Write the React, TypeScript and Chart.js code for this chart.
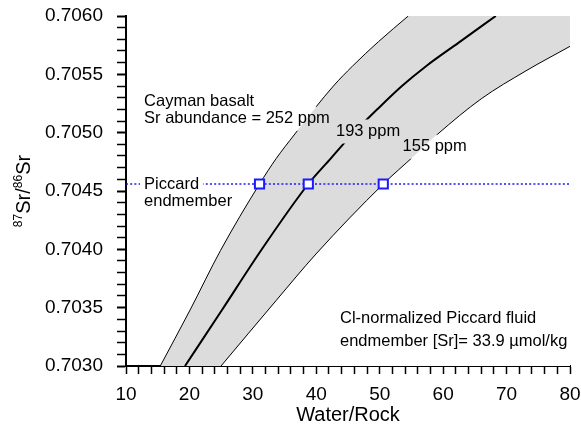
import React, { useEffect, useRef } from 'react';
import { Chart, registerables } from 'chart.js';

Chart.register(...registerables);

// Axis ranges and tick steps
const X_MIN = 10;
const X_MAX = 80;
const X_MAJOR = 10;
const X_MINOR = 2;
const Y_MIN = 0.703;
const Y_MAX = 0.706;
const Y_MAJOR = 0.0005;
const Y_MINOR = 0.0001;

// Mixing curves (Water/Rock vs 87Sr/86Sr) for three basalt Sr abundances
const curve252X = [15.4, 20.1, 24.9, 31.05, 33.7, 36.5, 39.8, 42.7, 45.7, 49.8, 54.5];
const curve252Y = [0.7030, 0.70348, 0.70399, 0.70456, 0.70478, 0.70498, 0.70521, 0.70540, 0.70557, 0.70578, 0.7060];

const curve193X = [19.3, 25.13, 31.28, 38.74, 42.3, 45.4, 49.8, 53.5, 57.3, 62.4, 68.3];
const curve193Y = [0.7030, 0.70348, 0.70399, 0.70456, 0.70478, 0.70497, 0.70521, 0.70540, 0.70557, 0.70577, 0.7060];

const curve155X = [24.98, 33.65, 39.95, 50.56, 55.4, 59.19, 66.0, 73.06, 80.0];
const curve155Y = [0.7030, 0.70356, 0.70396, 0.70456, 0.70480, 0.70499, 0.70529, 0.70553, 0.70574];

// Piccard endmember
const PICCARD_Y = 0.70456;
const markerX = [31.05, 38.74, 50.56];

// Text annotations (data coordinates of the left/middle of each line)
const annotText = [
  'Cayman basalt',
  'Sr abundance = 252 ppm',
  '193 ppm',
  '155 ppm',
  'Piccard',
  'endmember',
  'Cl-normalized Piccard fluid',
  'endmember [Sr]= 33.9 µmol/kg',
];
const annotX = [12.85, 12.85, 43.1, 53.6, 12.85, 12.85, 43.74, 43.74];
const annotY = [0.70527, 0.70512, 0.70501, 0.70488, PICCARD_Y, 0.70441, 0.70341, 0.70321];
const annotKnockout = [false, true, true, true, true, false, false, false];

const FAMILY = '"Liberation Sans", Arial, Helvetica, sans-serif';
const ANNOT_FONT = `16.5px ${FAMILY}`;
const BAND = '#dcdcdc';
const BLUE = '#1a1aff';

const toPts = (xs: number[], ys: number[]) => xs.map((x, i) => ({ x, y: ys[i] }));

function labelRect(chart: any, i: number) {
  const ctx = chart.ctx;
  ctx.save();
  ctx.font = ANNOT_FONT;
  const w = ctx.measureText(annotText[i]).width;
  ctx.restore();
  const px = chart.scales.x.getPixelForValue(annotX[i]);
  const py = chart.scales.y.getPixelForValue(annotY[i]);
  return { x: px - 4, y: py - 12, w: w + 8, h: 24 };
}

const KNOCK_DATASETS = [1, 2, 3, 4];

const annotPlugin = {
  id: 'annot',
  beforeDatasetDraw(chart: any, args: any) {
    if (!KNOCK_DATASETS.includes(args.index)) return;
    const ctx = chart.ctx;
    ctx.save();
    ctx.beginPath();
    ctx.rect(0, 0, chart.width, chart.height);
    for (let i = 0; i < annotText.length; i++) {
      if (!annotKnockout[i]) continue;
      const r = labelRect(chart, i);
      ctx.rect(r.x, r.y, r.w, r.h);
    }
    ctx.clip('evenodd');
  },
  afterDatasetDraw(chart: any, args: any) {
    if (!KNOCK_DATASETS.includes(args.index)) return;
    chart.ctx.restore();
  },
  afterDatasetsDraw(chart: any) {
    const ctx = chart.ctx;
    ctx.save();
    ctx.font = ANNOT_FONT;
    ctx.fillStyle = '#000';
    ctx.textAlign = 'left';
    ctx.textBaseline = 'middle';
    for (let i = 0; i < annotText.length; i++) {
      const px = chart.scales.x.getPixelForValue(annotX[i]);
      const py = chart.scales.y.getPixelForValue(annotY[i]);
      ctx.fillText(annotText[i], px, py);
    }
    ctx.restore();
  },
  afterDraw(chart: any) {
    // y-axis title with superscripts: 87Sr/86Sr
    const ctx = chart.ctx;
    const area = chart.chartArea;
    const parts = [
      { t: '87', sup: true },
      { t: 'Sr/', sup: false },
      { t: '86', sup: true },
      { t: 'Sr', sup: false },
    ];
    const mainFont = `20px ${FAMILY}`;
    const supFont = `12px ${FAMILY}`;
    ctx.save();
    let total = 0;
    const widths = parts.map((p) => {
      ctx.font = p.sup ? supFont : mainFont;
      const w = ctx.measureText(p.t).width;
      total += w;
      return w;
    });
    ctx.translate(area.left - 96, (area.top + area.bottom) / 2);
    ctx.rotate(-Math.PI / 2);
    ctx.fillStyle = '#000';
    ctx.textAlign = 'left';
    ctx.textBaseline = 'alphabetic';
    let cx = -total / 2;
    parts.forEach((p, i) => {
      ctx.font = p.sup ? supFont : mainFont;
      ctx.fillText(p.t, cx, p.sup ? -8 : 0);
      cx += widths[i];
    });
    ctx.restore();
  },
};

const zeroPad = (s: any) => {
  s.paddingTop = 0;
  s.paddingBottom = 0;
  s.paddingLeft = 0;
  s.paddingRight = 0;
};

export default function App() {
  const ref = useRef<HTMLCanvasElement | null>(null);

  useEffect(() => {
    if (!ref.current) return;
    const left = toPts(curve252X, curve252Y);
    const mid = toPts(curve193X, curve193Y);
    const right = toPts(curve155X, curve155Y);
    const fillBase = {
      borderColor: 'rgba(0,0,0,0)',
      borderWidth: 0,
      pointRadius: 0,
      cubicInterpolationMode: 'monotone' as const,
    };
    const chart = new Chart(ref.current, {
      type: 'line',
      data: {
        datasets: [
          {
            // 0: endmember markers
            data: markerX.map((x) => ({ x, y: PICCARD_Y })),
            showLine: false,
            pointStyle: 'rect',
            pointRadius: 6.5,
            pointBackgroundColor: '#ffffff',
            pointBorderColor: BLUE,
            pointBorderWidth: 2,
            fill: false,
          } as any,
          {
            // 1: Piccard endmember dotted line
            data: [
              { x: X_MIN, y: PICCARD_Y },
              { x: X_MAX, y: PICCARD_Y },
            ],
            borderColor: BLUE,
            borderWidth: 1.5,
            borderDash: [2, 2.2],
            pointRadius: 0,
            fill: false,
          },
          {
            // 2: 252 ppm
            data: left,
            borderColor: '#000',
            borderWidth: 1,
            pointRadius: 0,
            fill: false,
            cubicInterpolationMode: 'monotone',
          },
          {
            // 3: 193 ppm
            data: mid,
            borderColor: '#000',
            borderWidth: 2,
            pointRadius: 0,
            fill: false,
            cubicInterpolationMode: 'monotone',
          },
          {
            // 4: 155 ppm
            data: right,
            borderColor: '#000',
            borderWidth: 1,
            pointRadius: 0,
            fill: false,
            cubicInterpolationMode: 'monotone',
          },
          // band fills (drawn from last to first)
          { ...fillBase, data: left, fill: 'end', backgroundColor: '#ffffff' } as any, // 5
          { ...fillBase, data: right, fill: 'end', backgroundColor: BAND } as any, // 6
          { ...fillBase, data: right, fill: 'start', backgroundColor: '#ffffff' } as any, // 7
          { ...fillBase, data: left, fill: 'start', backgroundColor: BAND } as any, // 8
        ],
      },
      options: {
        responsive: false,
        animation: false,
        devicePixelRatio: 1,
        layout: { padding: { left: 0, right: 11, top: 16, bottom: 0 } },
        plugins: {
          legend: { display: false },
          tooltip: { enabled: false },
        },
        scales: {
          x: {
            type: 'linear',
            min: X_MIN,
            max: X_MAX,
            afterFit: (s: any) => {
              s.height = 62;
              zeroPad(s);
            },
            ticks: {
              stepSize: X_MINOR,
              autoSkip: false,
              maxRotation: 0,
              minRotation: 0,
              padding: 9,
              color: '#000',
              font: { family: FAMILY, size: 19 },
              callback: (v: any) => {
                const n = Math.round(Number(v) * 1000) / 1000;
                return Math.abs(n % X_MAJOR) < 1e-6 ? String(n) : '';
              },
            },
            grid: {
              drawOnChartArea: false,
              drawTicks: true,
              tickLength: 8,
              tickColor: '#000',
              tickWidth: 1.5,
            },
            border: { display: true, color: '#000', width: 2 },
            title: {
              display: true,
              text: 'Water/Rock',
              color: '#000',
              font: { family: FAMILY, size: 20 },
              padding: { top: 0, bottom: 1 },
            },
          },
          y: {
            type: 'linear',
            min: Y_MIN,
            max: Y_MAX,
            afterFit: (s: any) => {
              s.width = 126;
              zeroPad(s);
            },
            ticks: {
              stepSize: Y_MINOR,
              autoSkip: false,
              padding: 14,
              color: '#000',
              font: { family: FAMILY, size: 19 },
              callback: (v: any) => {
                const k = Math.round(Number(v) / Y_MINOR);
                const per = Math.round(Y_MAJOR / Y_MINOR);
                return k % per === 0 ? Number(v).toFixed(4) : '';
              },
            },
            grid: {
              drawOnChartArea: false,
              drawTicks: true,
              tickLength: 9,
              tickColor: '#000',
              tickWidth: (c: any) => {
                const k = Math.round(c.tick.value / Y_MINOR);
                return k % Math.round(Y_MAJOR / Y_MINOR) === 0 ? 2 : 1.5;
              },
            },
            border: { display: true, color: '#000', width: 2 },
          },
        },
      },
      plugins: [annotPlugin],
    });
    return () => chart.destroy();
  }, []);

  return (
    <div style={{ position: 'fixed', left: 0, top: 0, width: 581, height: 428, background: '#fff' }}>
      <canvas ref={ref} width={581} height={428} />
    </div>
  );
}
